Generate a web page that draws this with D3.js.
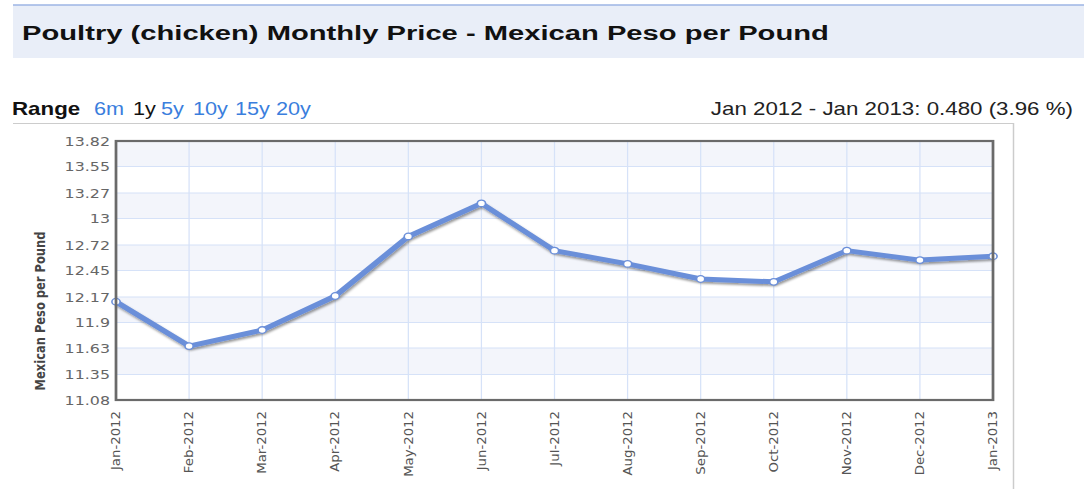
<!DOCTYPE html>
<html>
<head>
<meta charset="utf-8">
<script src="https://cdn.jsdelivr.net/npm/d3@7"></script>
<style>
  html, body { margin: 0; padding: 0; background: #fff; overflow: hidden; }
  svg { display: block; }
</style>
</head>
<body>
<script>
// data
var months = ["Jan-2012", "Feb-2012", "Mar-2012", "Apr-2012", "May-2012", "Jun-2012",
              "Jul-2012", "Aug-2012", "Sep-2012", "Oct-2012", "Nov-2012", "Dec-2012", "Jan-2013"];
var prices = [12.12, 11.65, 11.82, 12.18, 12.81, 13.16, 12.66, 12.52, 12.36, 12.33, 12.66, 12.56, 12.60];
var yTicks = [11.08, 11.35, 11.63, 11.9, 12.17, 12.45, 12.72, 13, 13.27, 13.55, 13.82];
var ranges = ["6m", "1y", "5y", "10y", "15y", "20y"];

var title = "Poultry (chicken) Monthly Price - Mexican Peso per Pound";
var summary = "Jan 2012 - Jan 2013: 0.480 (3.96 %)";
var yLabel = "Mexican Peso per Pound";

// the reference is stretched sideways, so draw in a narrower box and stretch it
var width = 1084, height = 489, k = 1.24;
var vw = width / k;

var svg = d3.select("body")
    .append("svg")
    .attr("width", width)
    .attr("height", height)
    .attr("viewBox", "0 0 " + vw + " " + height)
    .attr("preserveAspectRatio", "none");

var defs = svg.append("defs");
var shadow = defs.append("filter").attr("id", "shadow")
    .attr("x", "-10%").attr("y", "-20%").attr("width", "120%").attr("height", "140%");
shadow.append("feDropShadow")
    .attr("dx", 1).attr("dy", 2).attr("stdDeviation", 1.2)
    .attr("flood-color", "#000").attr("flood-opacity", 0.4);

// title band
svg.append("rect")
    .attr("x", 13 / k).attr("y", 5)
    .attr("width", vw - 13 / k).attr("height", 53)
    .attr("fill", "#e9eef8");
svg.append("line")
    .attr("x1", 13 / k).attr("x2", vw)
    .attr("y1", 5).attr("y2", 5)
    .attr("stroke", "#9db5e4").attr("stroke-width", 1.5);
svg.append("text")
    .attr("transform", "translate(" + (22 / k) + ",40) scale(1.12,1)")
    .attr("font-family", "'Liberation Sans', Arial, sans-serif")
    .attr("font-weight", "bold")
    .attr("font-size", 21)
    .attr("fill", "#111")
    .text(title);

// range row
var rangeX = [94, 133, 161, 193, 235, 276];
svg.append("text")
    .attr("x", 12 / k).attr("y", 115)
    .attr("font-family", "'Liberation Sans', Arial, sans-serif")
    .attr("font-weight", "bold")
    .attr("font-size", 18)
    .attr("fill", "#111")
    .text("Range");
svg.append("g").selectAll("text")
    .data(ranges)
    .enter().append("text")
    .attr("x", function (d, i) { return rangeX[i] / k; })
    .attr("y", 115)
    .attr("font-family", "'Liberation Sans', Arial, sans-serif")
    .attr("font-size", 17.5)
    .attr("fill", function (d) { return d === "1y" ? "#111" : "#3a7edd"; })
    .text(function (d) { return d; });
svg.append("text")
    .attr("x", 1073 / k).attr("y", 115)
    .attr("text-anchor", "end")
    .attr("font-family", "'Liberation Sans', Arial, sans-serif")
    .attr("font-size", 18)
    .attr("fill", "#222")
    .text(summary);

// outer box
svg.append("path")
    .attr("d", "M" + (13 / k) + ",123.5H" + (1013.5 / k) + "V" + height)
    .attr("fill", "none")
    .attr("stroke", "#cccccc")
    .attr("stroke-width", 1.2);

// scales
var plotLeft = 116 / k, plotRight = 993 / k, plotTop = 141, plotBottom = 400;
var x = d3.scalePoint().domain(months).range([plotLeft, plotRight]);
var y = d3.scaleLinear().domain([yTicks[0], yTicks[yTicks.length - 1]]).range([plotBottom, plotTop]);

// alternating bands
var bands = d3.pairs(yTicks).filter(function (d, i) { return i % 2 === 1; });
svg.append("g").selectAll("rect")
    .data(bands)
    .enter().append("rect")
    .attr("x", plotLeft).attr("width", plotRight - plotLeft)
    .attr("y", function (d) { return y(d[1]); })
    .attr("height", function (d) { return y(d[0]) - y(d[1]); })
    .attr("fill", "#f3f5fb");

// grid
var grid = svg.append("g").attr("stroke", "#d6e2f8").attr("stroke-width", 1);
grid.selectAll(".h")
    .data(yTicks)
    .enter().append("line")
    .attr("x1", plotLeft).attr("x2", plotRight)
    .attr("y1", function (d) { return y(d); })
    .attr("y2", function (d) { return y(d); });
grid.selectAll(".v")
    .data(months)
    .enter().append("line")
    .attr("x1", function (d) { return x(d); })
    .attr("x2", function (d) { return x(d); })
    .attr("y1", plotTop).attr("y2", plotBottom);

// y tick labels
svg.append("g").selectAll("text")
    .data(yTicks)
    .enter().append("text")
    .attr("x", 110 / k)
    .attr("y", function (d) { return y(d); })
    .attr("dy", "0.36em")
    .attr("text-anchor", "end")
    .attr("font-family", "'DejaVu Sans', Verdana, sans-serif")
    .attr("font-size", 12.8)
    .attr("fill", "#666")
    .text(function (d) { return d; });

// x tick labels
svg.append("g").selectAll("text")
    .data(months)
    .enter().append("text")
    .attr("transform", function (d) {
        return "translate(" + (x(d) + 3.4) + ",411) scale(1,1.4) rotate(-90)";
    })
    .attr("text-anchor", "end")
    .attr("font-family", "'DejaVu Sans', Verdana, sans-serif")
    .attr("font-size", 9.5)
    .attr("fill", "#555")
    .text(function (d) { return d; });

// y axis title
svg.append("text")
    .attr("transform", "translate(" + (45 / k) + ",311) rotate(-90)")
    .attr("text-anchor", "middle")
    .attr("font-family", "'DejaVu Sans', Verdana, sans-serif")
    .attr("font-weight", "bold")
    .attr("font-size", 11.5)
    .attr("fill", "#444")
    .text(yLabel);

// line
var line = d3.line()
    .x(function (d, i) { return x(months[i]); })
    .y(function (d) { return y(d); });

svg.append("path")
    .datum(prices)
    .attr("d", line)
    .attr("fill", "none")
    .attr("stroke", "#6b8fd9")
    .attr("stroke-width", 5)
    .attr("stroke-linejoin", "round")
    .attr("filter", "url(#shadow)");

svg.append("g").selectAll("circle")
    .data(prices)
    .enter().append("circle")
    .attr("cx", function (d, i) { return x(months[i]); })
    .attr("cy", function (d) { return y(d); })
    .attr("r", 3.3)
    .attr("fill", "#fff")
    .attr("stroke", "#6b8fd9")
    .attr("stroke-width", 1.3);

// plot frame
svg.append("rect")
    .attr("x", plotLeft).attr("y", plotTop)
    .attr("width", plotRight - plotLeft).attr("height", plotBottom - plotTop)
    .attr("fill", "none")
    .attr("stroke", "#6a6a6a")
    .attr("stroke-width", 2.2);
</script>
</body>
</html>
